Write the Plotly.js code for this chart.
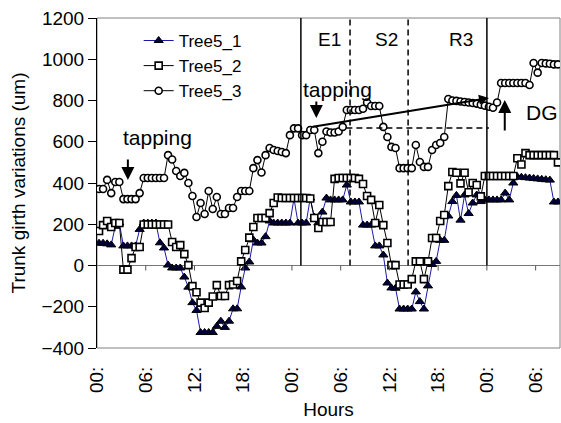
<!DOCTYPE html>
<html><head><meta charset="utf-8">
<script src="https://cdn.plot.ly/plotly-3.0.1.min.js"></script>
<style>html,body{margin:0;padding:0;background:#fff}#chart{width:561px;height:423px}</style>
</head><body><div id="chart"></div>
<script>
// Half-hourly trunk girth variations (um)
const tree5_1 = [108,108,105,100,190,206,95,95,95,95,175,206,206,206,206,110,85,2,-12,-12,
  -12,-56,-105,-180,-218,-325,-325,-325,-325,-295,-270,-300,-270,-210,-210,-104,-12,17,124,109,
  109,140,216,206,206,206,206,206,325,206,206,206,327,235,206,259,327,318,318,318,
  318,390,308,308,308,196,196,196,95,95,51,-85,-109,-110,-211,-211,-211,-211,-128,-175,
  -211,-99,5,20,122,122,240,310,340,220,342,252,303,342,310,318,318,318,318,318,
  351,318,400,430,428,426,424,422,420,418,416,414,308,308];
const tree5_2 = [167,196,216,187,206,206,-20,-20,36,90,90,199,199,199,199,199,199,199,114,90,
  99,55,2,-100,-130,-180,-206,-180,-150,-95,-148,-148,-95,-92,-75,20,75,135,187,230,
  230,230,254,303,330,327,327,327,327,327,327,327,325,230,182,211,211,211,420,424,
  424,424,424,424,420,395,337,318,206,293,196,109,2,2,-92,-92,-92,-66,20,20,
  -66,20,133,133,216,245,385,453,450,398,450,355,400,390,335,434,434,434,434,434,
  434,434,434,520,490,545,535,535,535,535,535,535,535,500];
const tree5_3 = [371,371,415,351,405,405,322,322,322,322,351,424,424,424,424,424,424,535,514,458,
  434,449,400,337,235,303,250,361,274,332,250,250,279,279,332,361,361,361,472,511,
  451,535,570,560,555,550,545,632,665,665,632,632,657,657,545,600,650,645,645,650,
  672,754,754,754,754,760,790,773,773,773,672,623,575,570,472,472,472,472,584,502,
  478,478,560,584,594,623,807,800,798,795,793,790,788,785,780,775,770,765,790,885,
  885,885,885,885,885,885,875,982,935,982,980,978,975,975];
const seriesNames = ["Tree5_1", "Tree5_2", "Tree5_3"];
const tickPositions = [-0.5, 11.5, 23.5, 35.5, 47.5, 59.5, 71.5, 83.5, 95.5, 107.5];
const tickLabels = ["00:", "06:", "12:", "18:", "00:", "06:", "12:", "18:", "00:", "06:"];
const yTicks = [-400, -200, 0, 200, 400, 600, 800, 1000, 1200];
const phaseLabels = ["E1", "S2", "R3"];

const idx = tree5_1.map((_, i) => i);
const FONT = "Liberation Sans, Arial, sans-serif";

const traces = [
  {x: idx, y: tree5_1, name: seriesNames[0], type: "scatter", mode: "lines+markers",
   line: {color: "#1a1aa6", width: 1},
   marker: {symbol: "triangle-up", size: 8, color: "#000040", line: {color: "#000000", width: 1}}},
  {x: idx, y: tree5_2, name: seriesNames[1], type: "scatter", mode: "lines+markers",
   line: {color: "#000000", width: 1},
   marker: {symbol: "square", size: 7, color: "#ffffff", line: {color: "#000000", width: 1.6}}},
  {x: idx, y: tree5_3, name: seriesNames[2], type: "scatter", mode: "lines+markers",
   line: {color: "#000000", width: 1},
   marker: {symbol: "circle", size: 7, color: "#ffffff", line: {color: "#000000", width: 1.6}}}
];

const shapes = [
  {type: "rect", xref: "paper", yref: "paper", x0: 0, x1: 1, y0: 0, y1: 1,
   line: {color: "#808080", width: 1}, layer: "below"},
  {type: "line", xref: "x", yref: "y", x0: 49.7, x1: 49.7, y0: 0, y1: 1200, line: {color: "#000", width: 1.5}},
  {type: "line", xref: "x", yref: "y", x0: 95.5, x1: 95.5, y0: 0, y1: 1200, line: {color: "#000", width: 1.5}},
  {type: "line", xref: "x", yref: "y", x0: 61.8, x1: 61.8, y0: 0, y1: 1200, line: {color: "#000", width: 1.5, dash: "6px,4px"}},
  {type: "line", xref: "x", yref: "y", x0: 76.1, x1: 76.1, y0: 0, y1: 1200, line: {color: "#000", width: 1.5, dash: "6px,4px"}},
  {type: "line", xref: "x", yref: "y", x0: 60.9, x1: 96, y0: 667, y1: 667, line: {color: "#000", width: 1.5, dash: "6px,4px"}}
];
tickPositions.slice(1).forEach(t => shapes.push({
  type: "line", xref: "x", yref: "y", ysizemode: "pixel", yanchor: 0,
  x0: t, x1: t, y0: 0, y1: -5, line: {color: "#555", width: 1}
}));

const annFont = {family: FONT, size: 21, color: "#000"};
const phaseFont = {family: FONT, size: 19, color: "#000"};
const annotations = [
  {x: 14.4, y: 623, text: "tapping", showarrow: false, font: annFont},
  {x: 7.1, y: 415, ax: 0, ay: -22, text: "", showarrow: true, arrowhead: 2, arrowsize: 1.3, arrowwidth: 2, arrowcolor: "#000", standoff: 0},
  {x: 58.6, y: 851, text: "tapping", showarrow: false, font: annFont},
  {x: 53.5, y: 715, ax: 0, ay: -18, text: "", showarrow: true, arrowhead: 2, arrowsize: 1.3, arrowwidth: 2, arrowcolor: "#000", standoff: 0},
  {x: 56.7, y: 1094, text: phaseLabels[0], showarrow: false, font: phaseFont},
  {x: 70.7, y: 1094, text: phaseLabels[1], showarrow: false, font: phaseFont},
  {x: 89.1, y: 1094, text: phaseLabels[2], showarrow: false, font: phaseFont},
  {x: 109, y: 740, text: "DG", showarrow: false, font: annFont},
  {x: 99.9, y: 803, ax: 0, ay: 32, text: "", showarrow: true, arrowhead: 2, arrowsize: 1.3, arrowwidth: 2, arrowcolor: "#000", standoff: 0},
  {x: 96, y: 812, ax: 52.3, ay: 672, axref: "x", ayref: "y", text: "", showarrow: true, arrowhead: 2, arrowsize: 1, arrowwidth: 2, arrowcolor: "#000", standoff: 0}
];

const layout = {
  width: 561, height: 423,
  margin: {l: 97, r: 1, t: 18, b: 75, pad: 0},
  paper_bgcolor: "#fff", plot_bgcolor: "#fff",
  font: {family: FONT, size: 19, color: "#000"},
  showlegend: true,
  legend: {x: 0.09, y: 0.985, xanchor: "left", yanchor: "top", bgcolor: "rgba(0,0,0,0)",
    font: {family: FONT, size: 17, color: "#000"}, tracegroupgap: 0},
  xaxis: {range: [-0.5, 113.5], tickmode: "array", tickvals: tickPositions, ticktext: tickLabels,
    tickangle: -90, ticks: "outside", ticklen: 10, tickcolor: "rgba(0,0,0,0)",
    showgrid: false, zeroline: false, showline: false,
    tickfont: {family: FONT, size: 19, color: "#000"},
    title: {text: "Hours", font: {family: FONT, size: 19, color: "#000"}, standoff: 10}},
  yaxis: {range: [-400, 1200], tickmode: "array", tickvals: yTicks,
    ticks: "outside", ticklen: 8, tickcolor: "#000", showgrid: false,
    zeroline: true, zerolinecolor: "#777", zerolinewidth: 1,
    showline: true, linecolor: "#000", linewidth: 1,
    tickfont: {family: FONT, size: 19, color: "#000"},
    title: {text: "Trunk girth variations (um)", font: {family: FONT, size: 19, color: "#000"}, standoff: 10}},
  shapes: shapes,
  annotations: annotations
};

Plotly.newPlot("chart", traces, layout, {displayModeBar: false, staticPlot: true});
</script>
</body></html>
